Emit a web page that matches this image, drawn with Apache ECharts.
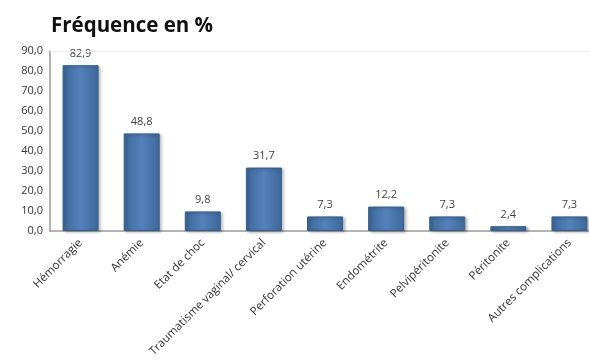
<!DOCTYPE html>
<html><head><meta charset="utf-8">
<script src="https://cdn.jsdelivr.net/npm/echarts@6/dist/echarts.min.js"></script>
<style>html,body{margin:0;padding:0;background:#fff;overflow:hidden}#c{width:600px;height:361px}</style>
</head><body><div id="c"></div>
<script>
const categories = ["Hémorragie","Anémie","Etat de choc","Traumatisme vaginal/ cervical","Perforation utérine","Endométrite","Pelvipéritonite","Péritonite","Autres complications"];
const values = [82.9,48.8,9.8,31.7,7.3,12.2,7.3,2.4,7.3];
const yTicks = {min:0,max:90,interval:10};
const fmt = v => v.toFixed(1).replace('.', ',');
const chart = echarts.init(document.getElementById('c'));
chart.setOption({
  animation:false,
  title:{text:'Fréquence en %',left:46,top:11,textStyle:{fontFamily:'Open Sans',fontWeight:'bold',fontSize:20.5,color:'#111'}},
  grid:{left:50,top:51,right:0,height:180},
  xAxis:{type:'category',data:categories,
    axisLine:{lineStyle:{color:'#9a9a9a',width:1.5}},axisTick:{show:false},
    axisLabel:{rotate:45,interval:0,fontFamily:'Open Sans',fontSize:11.5,color:'#333',margin:10}},
  yAxis:{type:'value',min:yTicks.min,max:yTicks.max,interval:yTicks.interval,
    axisLine:{show:true,lineStyle:{color:'#9a9a9a',width:1.5}},axisTick:{show:false},
    splitLine:{show:false},
    axisLabel:{formatter:v=>fmt(v),fontFamily:'Open Sans',fontSize:11,color:'#333',margin:7}},
  series:[{type:'bar',data:values,barWidth:36,
    itemStyle:{color:new echarts.graphic.LinearGradient(0,0,1,0,[{offset:0,color:'#3d6899'},{offset:0.5,color:'#5482bb'},{offset:1,color:'#3d6899'}]),
      borderColor:'#385f8c',borderWidth:1,shadowColor:'rgba(0,0,0,0.3)',shadowBlur:3,shadowOffsetX:2,shadowOffsetY:1},
    label:{show:true,position:'top',distance:6,formatter:p=>fmt(p.value),fontFamily:'Open Sans',fontSize:11,color:'#404040'}
  },{type:'line',data:[],markLine:{silent:true,symbol:'none',label:{show:false},lineStyle:{color:'#eeeeee',type:'solid',width:1},data:[{yAxis:90}]}}]
});
</script></body></html>
